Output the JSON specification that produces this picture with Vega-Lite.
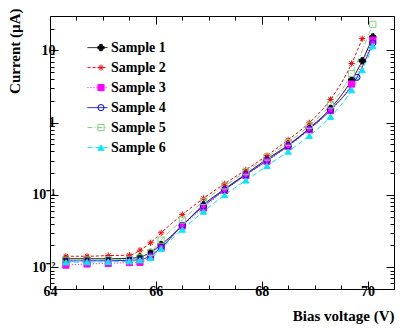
{
  "$schema": "https://vega.github.io/schema/vega-lite/v6.json",
  "width": 344,
  "height": 273,
  "autosize": "none",
  "padding": {"left": 50, "top": 16, "right": 21, "bottom": 40},
  "background": "white",
  "config": {
    "view": {"stroke": "#000"},
    "axis": {"labelFont": "Times New Roman, Liberation Serif, serif", "labelFontWeight": "bold", "labelFontSize": 14, "labelColor": "#000", "titleFont": "Times New Roman, Liberation Serif, serif", "titleFontWeight": "bold", "titleFontSize": 15, "titleColor": "#000", "domainColor": "#000", "tickColor": "#000", "grid": false, "labelFlush": false, "labelOverlap": false, "labelBound": false},
    "legend": {"labelFont": "Times New Roman, Liberation Serif, serif", "labelFontWeight": "bold", "labelFontSize": 14, "labelColor": "#000", "padding": 0, "rowPadding": 0}
  },
  "data": {"values": [
    {"s": "Sample 1", "v": 64.3, "i": 0.0131}, {"s": "Sample 1", "v": 64.7, "i": 0.0131}, {"s": "Sample 1", "v": 65.1, "i": 0.0131}, {"s": "Sample 1", "v": 65.5, "i": 0.0133}, {"s": "Sample 1", "v": 65.7, "i": 0.0139}, {"s": "Sample 1", "v": 65.9, "i": 0.0161}, {"s": "Sample 1", "v": 66.1, "i": 0.0206}, {"s": "Sample 1", "v": 66.5, "i": 0.0377}, {"s": "Sample 1", "v": 66.9, "i": 0.0734}, {"s": "Sample 1", "v": 67.3, "i": 0.121}, {"s": "Sample 1", "v": 67.7, "i": 0.195}, {"s": "Sample 1", "v": 68.1, "i": 0.314}, {"s": "Sample 1", "v": 68.5, "i": 0.49}, {"s": "Sample 1", "v": 68.9, "i": 0.84}, {"s": "Sample 1", "v": 69.3, "i": 1.58}, {"s": "Sample 1", "v": 69.7, "i": 3.9}, {"s": "Sample 1", "v": 69.9, "i": 7.2}, {"s": "Sample 1", "v": 70.1, "i": 15.4},
    {"s": "Sample 2", "v": 64.3, "i": 0.0142}, {"s": "Sample 2", "v": 64.7, "i": 0.0142}, {"s": "Sample 2", "v": 65.1, "i": 0.0145}, {"s": "Sample 2", "v": 65.5, "i": 0.0147}, {"s": "Sample 2", "v": 65.7, "i": 0.0172}, {"s": "Sample 2", "v": 65.9, "i": 0.0218}, {"s": "Sample 2", "v": 66.1, "i": 0.030}, {"s": "Sample 2", "v": 66.5, "i": 0.0535}, {"s": "Sample 2", "v": 66.9, "i": 0.0897}, {"s": "Sample 2", "v": 67.3, "i": 0.143}, {"s": "Sample 2", "v": 67.7, "i": 0.223}, {"s": "Sample 2", "v": 68.1, "i": 0.352}, {"s": "Sample 2", "v": 68.5, "i": 0.58}, {"s": "Sample 2", "v": 68.9, "i": 1.0}, {"s": "Sample 2", "v": 69.3, "i": 2.1}, {"s": "Sample 2", "v": 69.7, "i": 6.6}, {"s": "Sample 2", "v": 69.9, "i": 14.6},
    {"s": "Sample 3", "v": 64.3, "i": 0.0107}, {"s": "Sample 3", "v": 64.7, "i": 0.0111}, {"s": "Sample 3", "v": 65.1, "i": 0.0113}, {"s": "Sample 3", "v": 65.5, "i": 0.0116}, {"s": "Sample 3", "v": 65.7, "i": 0.0117}, {"s": "Sample 3", "v": 65.9, "i": 0.0139}, {"s": "Sample 3", "v": 66.1, "i": 0.0186}, {"s": "Sample 3", "v": 66.5, "i": 0.0372}, {"s": "Sample 3", "v": 66.9, "i": 0.066}, {"s": "Sample 3", "v": 67.3, "i": 0.116}, {"s": "Sample 3", "v": 67.7, "i": 0.187}, {"s": "Sample 3", "v": 68.1, "i": 0.294}, {"s": "Sample 3", "v": 68.5, "i": 0.47}, {"s": "Sample 3", "v": 68.9, "i": 0.8}, {"s": "Sample 3", "v": 69.3, "i": 1.47}, {"s": "Sample 3", "v": 69.7, "i": 3.43}, {"s": "Sample 3", "v": 70.1, "i": 13.9},
    {"s": "Sample 4", "v": 64.3, "i": 0.0122}, {"s": "Sample 4", "v": 64.7, "i": 0.0123}, {"s": "Sample 4", "v": 65.1, "i": 0.0123}, {"s": "Sample 4", "v": 65.5, "i": 0.0125}, {"s": "Sample 4", "v": 65.7, "i": 0.0127}, {"s": "Sample 4", "v": 65.9, "i": 0.0145}, {"s": "Sample 4", "v": 66.1, "i": 0.0188}, {"s": "Sample 4", "v": 66.5, "i": 0.038}, {"s": "Sample 4", "v": 66.9, "i": 0.07}, {"s": "Sample 4", "v": 67.3, "i": 0.118}, {"s": "Sample 4", "v": 67.7, "i": 0.19}, {"s": "Sample 4", "v": 68.1, "i": 0.30}, {"s": "Sample 4", "v": 68.5, "i": 0.48}, {"s": "Sample 4", "v": 68.9, "i": 0.82}, {"s": "Sample 4", "v": 69.3, "i": 1.5}, {"s": "Sample 4", "v": 69.8, "i": 4.25}, {"s": "Sample 4", "v": 70.1, "i": 12.7},
    {"s": "Sample 5", "v": 64.3, "i": 0.0125}, {"s": "Sample 5", "v": 64.7, "i": 0.0126}, {"s": "Sample 5", "v": 65.1, "i": 0.0127}, {"s": "Sample 5", "v": 65.5, "i": 0.0129}, {"s": "Sample 5", "v": 65.7, "i": 0.0135}, {"s": "Sample 5", "v": 65.9, "i": 0.016}, {"s": "Sample 5", "v": 66.1, "i": 0.0237}, {"s": "Sample 5", "v": 66.5, "i": 0.045}, {"s": "Sample 5", "v": 66.9, "i": 0.0816}, {"s": "Sample 5", "v": 67.3, "i": 0.133}, {"s": "Sample 5", "v": 67.7, "i": 0.21}, {"s": "Sample 5", "v": 68.1, "i": 0.335}, {"s": "Sample 5", "v": 68.5, "i": 0.53}, {"s": "Sample 5", "v": 68.9, "i": 0.92}, {"s": "Sample 5", "v": 69.3, "i": 1.76}, {"s": "Sample 5", "v": 69.7, "i": 4.8}, {"s": "Sample 5", "v": 70.1, "i": 23},
    {"s": "Sample 6", "v": 64.3, "i": 0.0117}, {"s": "Sample 6", "v": 64.7, "i": 0.0118}, {"s": "Sample 6", "v": 65.1, "i": 0.0119}, {"s": "Sample 6", "v": 65.5, "i": 0.0121}, {"s": "Sample 6", "v": 65.7, "i": 0.0125}, {"s": "Sample 6", "v": 65.9, "i": 0.0135}, {"s": "Sample 6", "v": 66.1, "i": 0.0181}, {"s": "Sample 6", "v": 66.5, "i": 0.0332}, {"s": "Sample 6", "v": 66.9, "i": 0.059}, {"s": "Sample 6", "v": 67.3, "i": 0.10}, {"s": "Sample 6", "v": 67.7, "i": 0.159}, {"s": "Sample 6", "v": 68.1, "i": 0.253}, {"s": "Sample 6", "v": 68.5, "i": 0.40}, {"s": "Sample 6", "v": 68.9, "i": 0.66}, {"s": "Sample 6", "v": 69.3, "i": 1.21}, {"s": "Sample 6", "v": 69.7, "i": 2.83}, {"s": "Sample 6", "v": 69.9, "i": 5.35}, {"s": "Sample 6", "v": 70.1, "i": 11.5}
  ]},
  "layer": [
    {
      "mark": {"type": "line", "interpolate": "monotone", "strokeWidth": 1},
      "encoding": {
        "x": {"field": "v", "type": "quantitative", "scale": {"domain": [64, 70.5], "nice": false, "zero": false},
          "axis": {"orient": "bottom", "title": "Bias voltage (V)", "values": [64, 64.5, 65, 65.5, 66, 66.5, 67, 67.5, 68, 68.5, 69, 69.5, 70],
            "labelExpr": "datum.value % 2 == 0 ? '' + datum.value : ''", "labelPadding": 3,
            "tickSize": {"condition": {"test": "datum.value % 2 == 0", "value": -8}, "value": -4},
            "titleAnchor": "end", "titleAlign": "right", "titleX": 344, "titleY": 26, "titleBaseline": "middle"}},
        "y": {"field": "i", "type": "quantitative", "scale": {"type": "log", "domain": [0.005, 30], "nice": false},
          "axis": {"orient": "left", "title": "Current (µA)",
            "values": [0.006, 0.007, 0.008, 0.009, 0.01, 0.02, 0.03, 0.04, 0.05, 0.06, 0.07, 0.08, 0.09, 0.1, 0.2, 0.3, 0.4, 0.5, 0.6, 0.7, 0.8, 0.9, 1, 2, 3, 4, 5, 6, 7, 8, 9, 10, 20],
            "labelExpr": "datum.value == 10 ? '10' : datum.value == 1 ? '1' : datum.value == 0.1 ? '10⁻¹' : datum.value == 0.01 ? '10⁻²' : ''",
            "labelPadding": 3,
            "tickSize": {"condition": {"test": "indexof([0.01, 0.1, 1, 10], datum.value) >= 0", "value": -8}, "value": -4},
            "titleAngle": -90, "titleAlign": "right", "titleBaseline": "middle", "titleX": -36, "titleY": -8}},
        "stroke": {"field": "s", "type": "nominal",
          "scale": {"domain": ["Sample 1", "Sample 2", "Sample 3", "Sample 4", "Sample 5", "Sample 6"], "range": ["#000000", "#ff0000", "#ff00ff", "#0000ff", "#80d080", "#00e8ff"]},
          "legend": {"title": null, "orient": "none", "legendX": 37, "legendY": 22, "symbolType": "stroke", "symbolSize": 400, "symbolStrokeWidth": 1, "clipHeight": 19.2, "labelOffset": 3}},
        "strokeDash": {"field": "s", "type": "nominal",
          "scale": {"domain": ["Sample 1", "Sample 2", "Sample 3", "Sample 4", "Sample 5", "Sample 6"], "range": [[1, 0], [3, 2], [1, 2], [1, 0], [5, 2, 1, 2], [5, 3]]},
          "legend": {"title": null, "orient": "none", "legendX": 37, "legendY": 22, "symbolType": "stroke", "symbolSize": 400, "symbolStrokeWidth": 1, "clipHeight": 19.2, "labelOffset": 3}}
      }
    },
    {
      "mark": {"type": "point", "size": 38, "strokeWidth": 1, "opacity": 1},
      "encoding": {
        "x": {"field": "v", "type": "quantitative",
          "axis": {"orient": "top", "title": null, "labels": false, "values": [64, 64.5, 65, 65.5, 66, 66.5, 67, 67.5, 68, 68.5, 69, 69.5, 70],
            "tickSize": {"condition": {"test": "datum.value % 2 == 0", "value": -8}, "value": -4}}},
        "y": {"field": "i", "type": "quantitative",
          "axis": {"orient": "right", "title": null, "labels": false,
            "values": [0.006, 0.007, 0.008, 0.009, 0.01, 0.02, 0.03, 0.04, 0.05, 0.06, 0.07, 0.08, 0.09, 0.1, 0.2, 0.3, 0.4, 0.5, 0.6, 0.7, 0.8, 0.9, 1, 2, 3, 4, 5, 6, 7, 8, 9, 10, 20],
            "tickSize": {"condition": {"test": "indexof([0.01, 0.1, 1, 10], datum.value) >= 0", "value": -8}, "value": -4}}},
        "stroke": {"field": "s", "type": "nominal",
          "legend": {"title": null, "orient": "none", "legendX": 44, "legendY": 22, "symbolSize": 38, "symbolStrokeWidth": 1, "clipHeight": 19.2, "labelOpacity": 0}},
        "fill": {"field": "s", "type": "nominal",
          "scale": {"domain": ["Sample 1", "Sample 2", "Sample 3", "Sample 4", "Sample 5", "Sample 6"], "range": ["#000000", "transparent", "#ff00ff", "transparent", "transparent", "#00e8ff"]},
          "legend": {"title": null, "orient": "none", "legendX": 44, "legendY": 22, "symbolSize": 38, "symbolStrokeWidth": 1, "clipHeight": 19.2, "labelOpacity": 0}},
        "shape": {"field": "s", "type": "nominal",
          "scale": {"domain": ["Sample 1", "Sample 2", "Sample 3", "Sample 4", "Sample 5", "Sample 6"], "range": ["cross", "M-1,0L1,0M0,-1L0,1M-0.7,-0.7L0.7,0.7M-0.7,0.7L0.7,-0.7", "square", "circle", "square", "triangle-up"]},
          "legend": {"title": null, "orient": "none", "legendX": 44, "legendY": 22, "symbolSize": 38, "symbolStrokeWidth": 1, "clipHeight": 19.2, "labelOpacity": 0}}
      }
    }
  ],
  "resolve": {
    "axis": {"x": "independent", "y": "independent"},
    "legend": {"stroke": "independent", "strokeDash": "independent", "fill": "independent", "shape": "independent"}
  }
}
